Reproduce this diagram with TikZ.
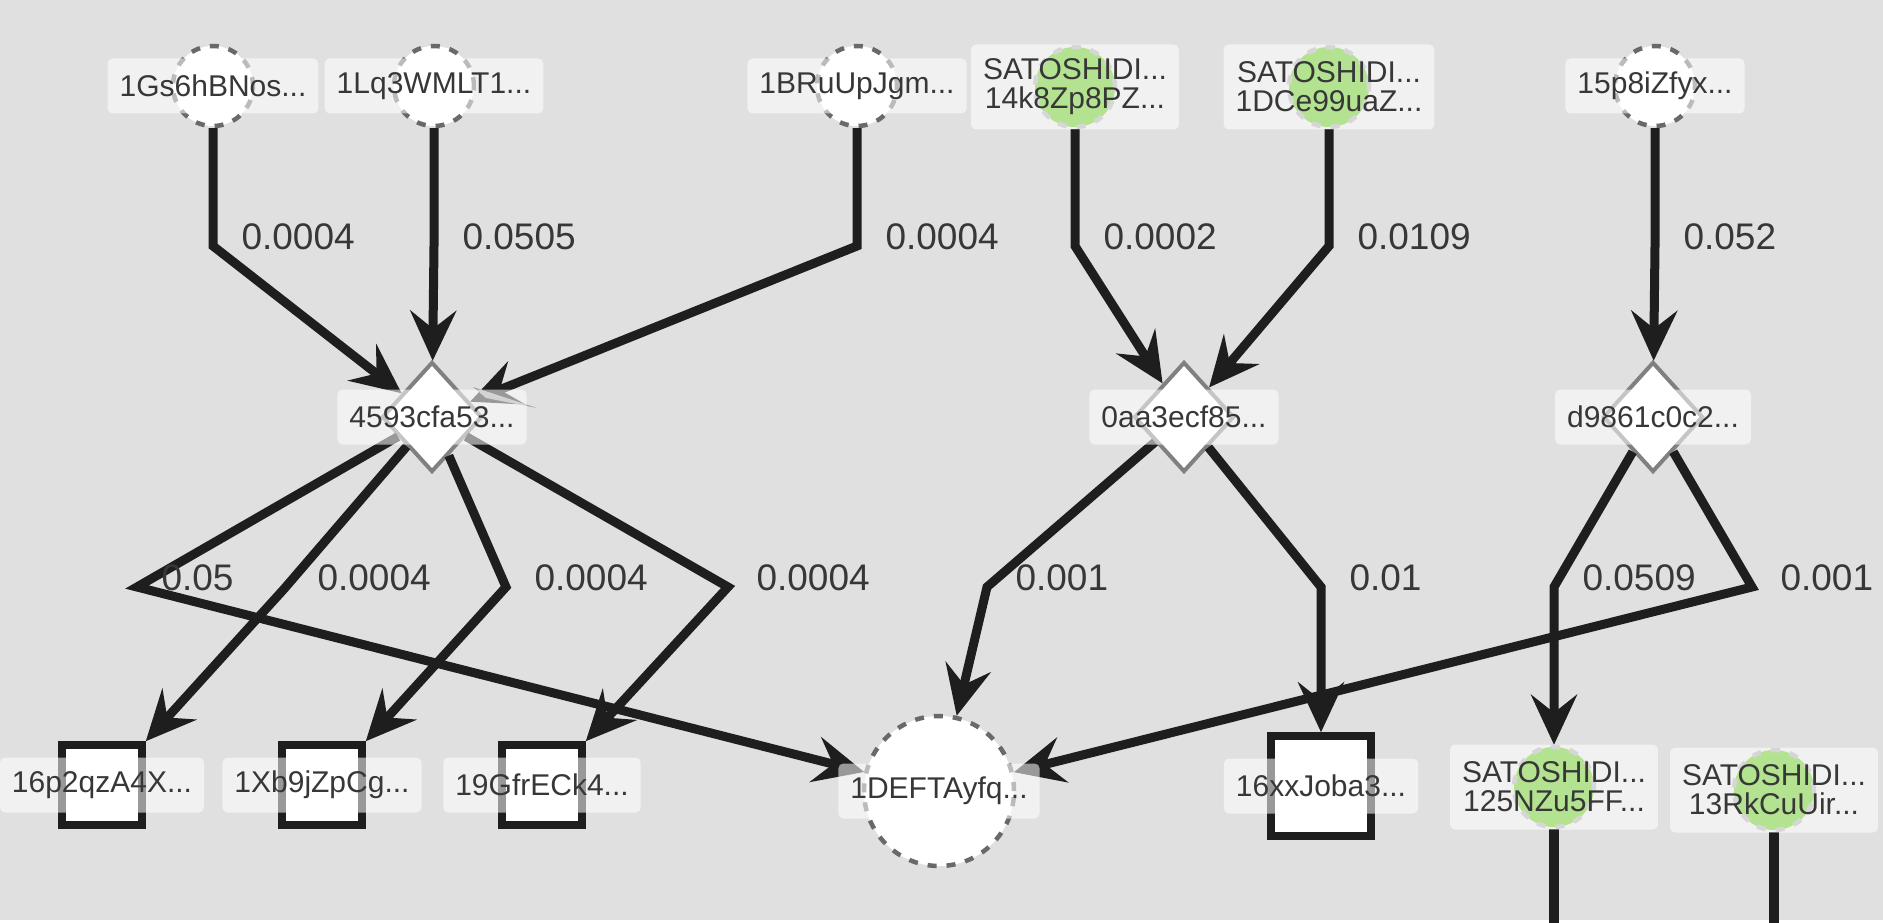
\documentclass[tikz,border=0pt]{standalone}
\usepackage{fontspec}
\setmainfont{Liberation Sans}
\usetikzlibrary{arrows.meta,shapes.geometric}
\definecolor{bg}{RGB}{224,224,224}
\definecolor{ink}{RGB}{30,30,30}
\definecolor{txt}{RGB}{55,55,55}
\definecolor{satgreen}{RGB}{88,192,10}
\definecolor{rimgray}{RGB}{105,105,105}
\definecolor{diagray}{RGB}{128,128,128}
\begin{document}
\begin{tikzpicture}[x=1pt,y=-1pt,
  addr/.style={circle, minimum size=80pt, inner sep=0pt, fill=white, draw=rimgray, line width=4.5pt, dash pattern=on 9pt off 10pt},
  sat/.style={addr, fill=satgreen, draw=rimgray!60},
  txn/.style={diamond, minimum width=100pt, minimum height=110pt, inner sep=0pt, fill=white, draw=diagray, line width=4pt},
  outbox/.style={rectangle, minimum size=80pt, inner sep=0pt, fill=white, draw=ink, line width=7.5pt},
  tag/.style={rectangle, rounded corners=5pt, fill=white, fill opacity=0.55, text opacity=1, text=txt, font=\fontsize{30}{29}\selectfont, inner xsep=12pt, inner ysep=13pt, minimum height=55pt, align=center},
  tagtwo/.style={tag, minimum height=85pt},
  amt/.style={anchor=west, text=txt, font=\fontsize{37}{37}\selectfont, inner sep=0pt, xshift=24pt, yshift=9pt},
  flow/.style={draw=ink, line width=9pt, -{Stealth[length=50pt,width=46pt,inset=18pt]}},
  trunk/.style={draw=ink, line width=10pt},
]
\useasboundingbox (0,0) rectangle (1883,923);
\fill[bg] (0,0) rectangle (1883,923);
\fill[white] (0,920) rectangle (1883,923);

% shapes
\node[addr] (a1) at (213,86) {};
\node[addr] (a2) at (434,86) {};
\node[addr] (a3) at (857,86) {};
\node[sat]  (a4) at (1075,87) {};
\node[sat]  (a5) at (1329,87) {};
\node[addr] (a6) at (1655,86) {};
\node[txn] (d1) at (432,417) {};
\node[txn] (d2) at (1184,417) {};
\node[txn] (d3) at (1653,417) {};
\node[outbox] (b1) at (102,785) {};
\node[outbox] (b2) at (322,785) {};
\node[outbox] (b3) at (542,785) {};
\node[addr, minimum size=150pt] (c) at (939,791) {};
\node[outbox, minimum size=100pt] (e) at (1321,786) {};
\node[sat] (f) at (1554,787) {};
\node[sat] (g) at (1774,790) {};

% bend points
\coordinate (k1) at (213,246);
\coordinate (k2) at (434,246);
\coordinate (k3) at (857,246);
\coordinate (k4) at (1075,246);
\coordinate (k5) at (1329,246);
\coordinate (k6) at (1655,246);
\coordinate (k7) at (137,587);
\coordinate (k8) at (284,589);
\coordinate (k9) at (506,587);
\coordinate (k10) at (728,587);
\coordinate (k11) at (987,587);
\coordinate (k12) at (1321,587);
\coordinate (k13) at (1554,587);
\coordinate (k14) at (1752,587);
\coordinate (fend) at (1554,923);
\coordinate (gend) at (1774,923);

% connectors
\draw[flow] (a1) -- (k1) node[amt]{0.0004} -- (d1);
\draw[flow] (a2) -- (k2) node[amt]{0.0505} -- (d1);
\draw[flow] (a3) -- (k3) node[amt]{0.0004} -- (d1);
\draw[flow] (a4) -- (k4) node[amt]{0.0002} -- (d2);
\draw[flow] (a5) -- (k5) node[amt]{0.0109} -- (d2);
\draw[flow] (a6) -- (k6) node[amt]{0.052} -- (d3);
\draw[flow] (d1) -- (k7) node[amt, xshift=-4pt]{0.05} -- (c);
\draw[flow] (d1) -- (k8) node[amt, xshift=5pt, yshift=2pt]{0.0004} -- (b1.north east);
\draw[flow] (d1) -- (k9) node[amt]{0.0004} -- (b2.north east);
\draw[flow] (d1) -- (k10) node[amt]{0.0004} -- (b3.north east);
\draw[flow] (d2) -- (k11) node[amt]{0.001} -- (c);
\draw[flow] (d2) -- (k12) node[amt]{0.01} -- (e);
\draw[flow] (d3) -- (k13) node[amt]{0.0509} -- (f);
\draw[flow] (d3) -- (k14) node[amt]{0.001} -- (c);
\draw[trunk] (f) -- (fend);
\draw[trunk] (g) -- (gend);
\fill[gray!75] (473,387) -- (537,408) -- (486,398) -- cycle;

% labels
\node[tag] (ta1) at (a1) {1Gs6hBNos...};
\node[tag] (ta2) at (a2) {1Lq3WMLT1...};
\node[tag] (ta3) at (a3) {1BRuUpJgm...};
\node[tagtwo] (ta4) at (a4) {SATOSHIDI...\\14k8Zp8PZ...};
\node[tagtwo] (ta5) at (a5) {SATOSHIDI...\\1DCe99uaZ...};
\node[tag] (ta6) at (a6) {15p8iZfyx...};
\node[tag] (td1) at (d1) {4593cfa53...};
\node[tag] (td2) at (d2) {0aa3ecf85...};
\node[tag] (td3) at (d3) {d9861c0c2...};
\node[tag] (tb1) at (b1) {16p2qzA4X...};
\node[tag] (tb2) at (b2) {1Xb9jZpCg...};
\node[tag] (tb3) at (b3) {19GfrECk4...};
\node[tag] (tc) at (c) {1DEFTAyfq...};
\node[tag] (te) at (e) {16xxJoba3...};
\node[tagtwo] (tf) at (f) {SATOSHIDI...\\125NZu5FF...};
\node[tagtwo] (tg) at (g) {SATOSHIDI...\\13RkCuUir...};
\end{tikzpicture}
\end{document}
